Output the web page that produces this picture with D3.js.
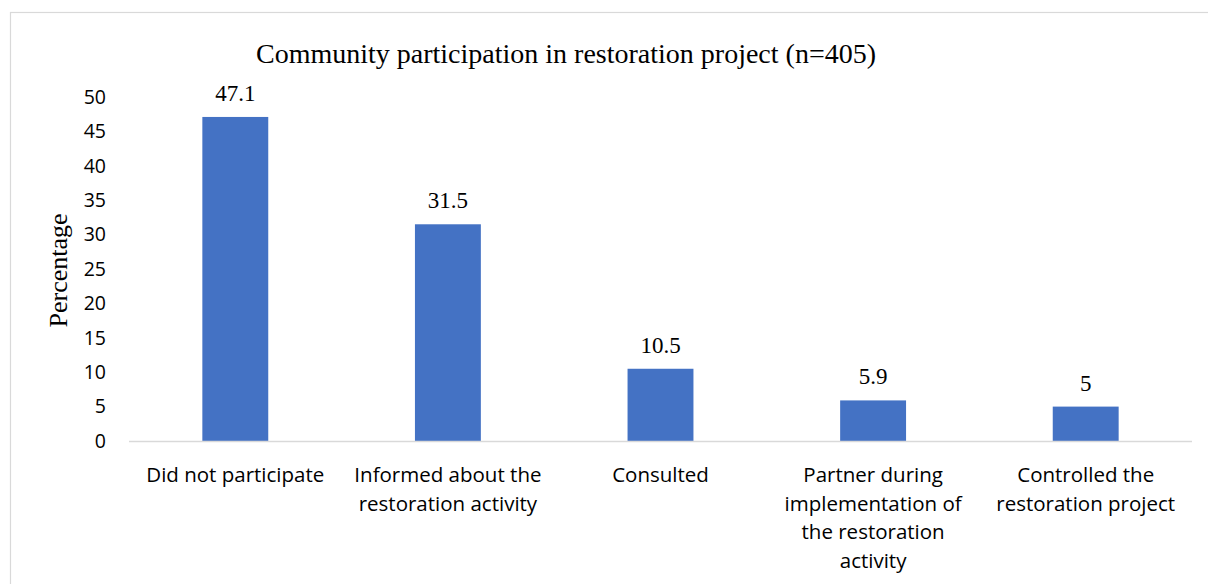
<!DOCTYPE html>
<html>
<head>
<meta charset="utf-8">
<script src="https://cdn.jsdelivr.net/npm/d3@7"></script>
<style>
  html, body { margin: 0; padding: 0; background: #fff; }
  svg { display: block; }
</style>
</head>
<body>
<svg id="chart" width="1208" height="584"></svg>
<script>
// Survey categories (each entry is split into its display lines)
const categories = [
  "Did not participate",
  "Informed about the\nrestoration activity",
  "Consulted",
  "Partner during\nimplementation of\nthe restoration\nactivity",
  "Controlled the\nrestoration project"
];
// Share of respondents, percent
const values = [47.1, 31.5, 10.5, 5.9, 5];
const yTicks = [0, 5, 10, 15, 20, 25, 30, 35, 40, 45, 50];
const titleText = "Community participation in restoration project (n=405)";
const yLabel = "Percentage";

const svg = d3.select("#chart");
const serif = "'Liberation Serif', 'Times New Roman', serif";
const sans = "'Open Sans', 'Noto Sans', sans-serif";

// outer chart frame
svg.append("rect")
  .attr("x", 10.5).attr("y", 12.5)
  .attr("width", 1230).attr("height", 600)
  .attr("fill", "#fff").attr("stroke", "#d9d9d9").attr("stroke-width", 1.2);

const plot = { left: 129, right: 1192, top: 97, bottom: 441 };

const x = d3.scaleBand()
  .domain(categories)
  .range([plot.left, plot.right])
  .paddingInner(0.69)
  .paddingOuter(0.345);

const y = d3.scaleLinear()
  .domain([0, 50])
  .range([plot.bottom, plot.top]);

// title
svg.append("text")
  .attr("x", 566).attr("y", 63)
  .attr("text-anchor", "middle")
  .attr("font-family", serif).attr("font-size", 28)
  .attr("fill", "#000")
  .text(titleText);

// y axis: labels only
const yAxis = d3.axisLeft(y).tickValues(yTicks).tickSize(0).tickPadding(0);
const gy = svg.append("g")
  .attr("transform", `translate(106,0)`)
  .call(yAxis);
gy.select(".domain").remove();
gy.selectAll("text")
  .attr("font-family", sans).attr("font-size", 19.5)
  .attr("fill", "#000");

// y axis title
svg.append("text")
  .attr("transform", `translate(67,270.5) rotate(-90)`)
  .attr("text-anchor", "middle")
  .attr("font-family", serif).attr("font-size", 26)
  .attr("fill", "#000")
  .text(yLabel);

// bars
svg.append("g").selectAll("rect")
  .data(values)
  .join("rect")
  .attr("x", (d, i) => x(categories[i]))
  .attr("y", d => y(d))
  .attr("width", x.bandwidth())
  .attr("height", d => y(0) - y(d))
  .attr("fill", "#4472c4");

// baseline
svg.append("line")
  .attr("x1", plot.left).attr("x2", plot.right)
  .attr("y1", y(0) + 0.5).attr("y2", y(0) + 0.5)
  .attr("stroke", "#d9d9d9").attr("stroke-width", 1.5);

// value labels
svg.append("g").selectAll("text")
  .data(values)
  .join("text")
  .attr("x", (d, i) => x(categories[i]) + x.bandwidth() / 2)
  .attr("y", d => y(d) - 16)
  .attr("text-anchor", "middle")
  .attr("font-family", serif).attr("font-size", 23)
  .attr("fill", "#000")
  .text(d => d);

// category labels
const xAxis = d3.axisBottom(x).tickSize(0).tickFormat("");
const gx = svg.append("g")
  .attr("transform", `translate(0,${plot.bottom})`)
  .call(xAxis);
gx.select(".domain").remove();
gx.selectAll(".tick").each(function(d) {
  const t = d3.select(this).append("text")
    .attr("text-anchor", "middle")
    .attr("font-family", sans).attr("font-size", 20.5)
    .attr("fill", "#000");
  d.split("\n").forEach((line, k) => {
    t.append("tspan").attr("x", 0).attr("y", 41 + k * 28.5).text(line);
  });
});
</script>
</body>
</html>
